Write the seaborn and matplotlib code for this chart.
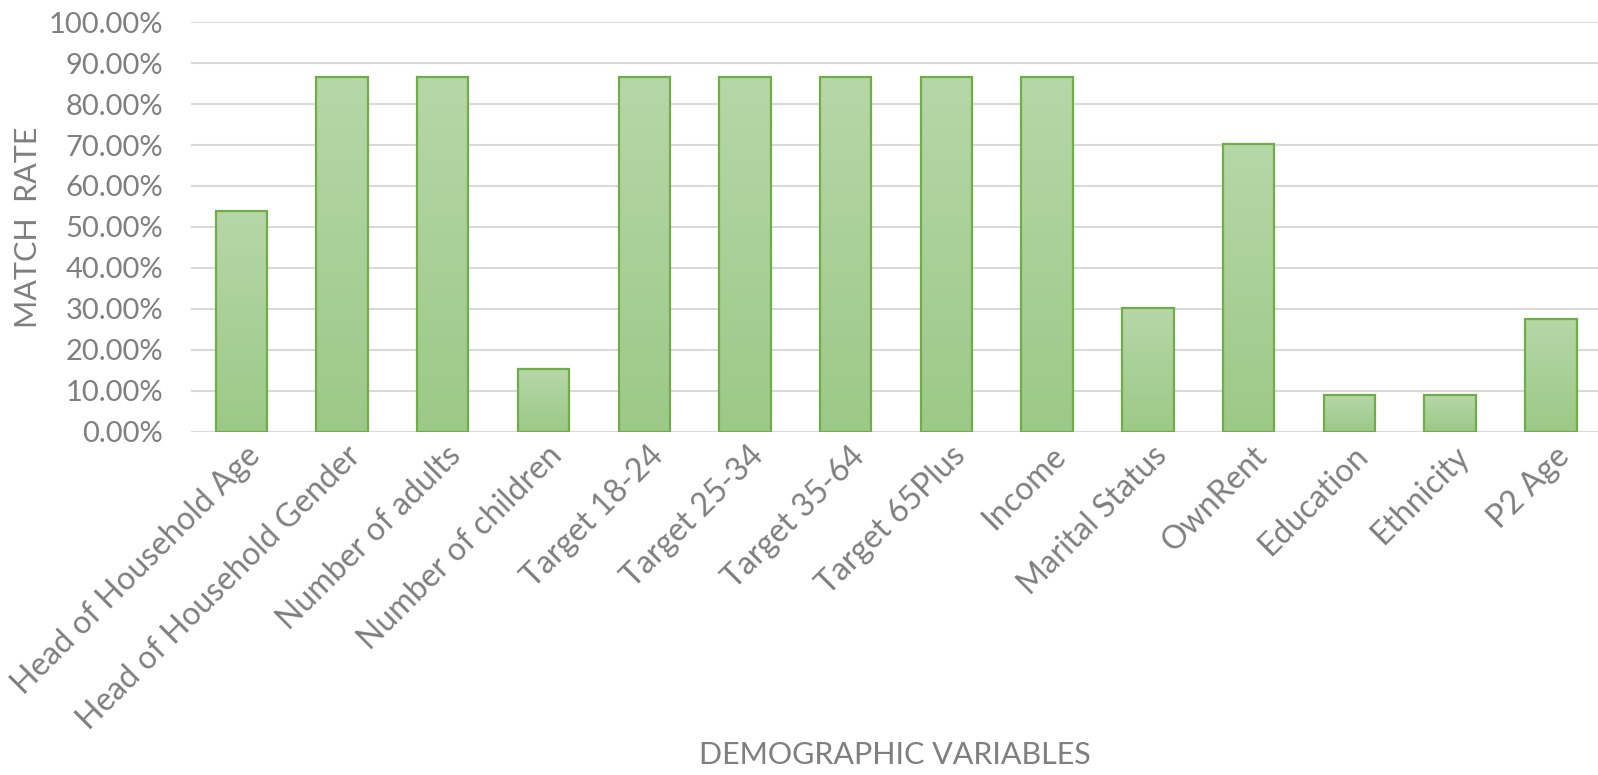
import numpy as np
import pandas as pd
import matplotlib
matplotlib.use("Agg")
import matplotlib.pyplot as plt
import matplotlib.transforms as mtransforms
import seaborn as sns
from matplotlib.colors import LinearSegmentedColormap
from matplotlib.ticker import PercentFormatter

# datos
categorias = [
    "Head of Household Age", "Head of Household Gender", "Number of adults",
    "Number of children", "Target 18-24", "Target 25-34", "Target 35-64",
    "Target 65Plus", "Income", "Marital Status", "OwnRent", "Education",
    "Ethnicity", "P2 Age",
]
match_rate = [0.54, 0.865, 0.865, 0.153, 0.865, 0.865, 0.865,
              0.865, 0.865, 0.303, 0.703, 0.089, 0.089, 0.276]

df = pd.DataFrame({"variable": categorias, "rate": match_rate})

GRIS = "#7f7f7f"
BORDE = "#70ad47"

sns.set_style("white")
plt.rcParams["font.family"] = ["Lato", "DejaVu Sans"]

fig = plt.figure(figsize=(15.98, 7.75), dpi=100)
ax = fig.add_axes([0.1195, 0.4426, 0.8825, 0.529])

sns.barplot(data=df, x="variable", y="rate", color="#a9d18e",
            width=0.51, edgecolor=BORDE, linewidth=1.6, ax=ax, zorder=3)

# relleno en degradado como en la planilla original
cmap = LinearSegmentedColormap.from_list("verde", ["#9cc987", "#b6d7a8"])
grad = np.linspace(0, 1, 256).reshape(-1, 1)
for barra in ax.patches:
    x0, y0 = barra.get_x(), barra.get_y()
    w, h = barra.get_width(), barra.get_height()
    img = ax.imshow(grad, cmap=cmap, aspect="auto", origin="lower",
                    extent=[x0, x0 + w, y0, y0 + h], zorder=3.5)
    img.set_clip_path(barra)
    barra.set_facecolor("none")
    barra.set_zorder(4)

ax.set_xlim(-0.5, 13.5)
ax.set_ylim(0, 1.0)
ax.set_yticks(np.arange(0, 1.01, 0.1))
ax.yaxis.set_major_formatter(PercentFormatter(1.0, decimals=2))
ax.grid(axis="y", color="#d9d9d9", linewidth=1.5, zorder=0)
ax.set_axisbelow(True)
for s in ax.spines.values():
    s.set_visible(False)

ax.tick_params(axis="both", length=0, labelcolor=GRIS)
ax.tick_params(axis="y", pad=20, labelsize=21)
ax.tick_params(axis="x", pad=14, labelsize=23)
desplaza = mtransforms.ScaledTranslation(14 / 100, 0, fig.dpi_scale_trans)
for lbl in ax.get_xticklabels():
    lbl.set_rotation(45)
    lbl.set_ha("right")
    lbl.set_va("center")
    lbl.set_rotation_mode("anchor")
    lbl.set_transform(lbl.get_transform() + desplaza)

ax.set_ylabel("")
ax.set_xlabel("")
fig.text(0.0175, 0.707, "MATCH  RATE", fontsize=22, color=GRIS,
         rotation=90, ha="center", va="center")
fig.text(0.56, 0.008, "DEMOGRAPHIC VARIABLES", fontsize=22, color=GRIS,
         ha="center", va="bottom")

plt.savefig("out.png", dpi=100)
